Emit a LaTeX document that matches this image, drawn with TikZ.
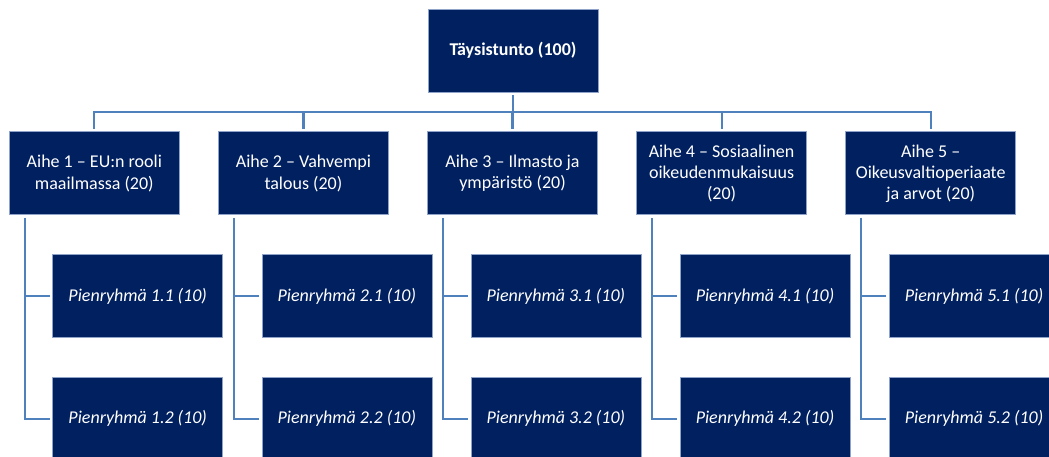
\documentclass[tikz,border=0pt]{standalone}
\usepackage{fontspec}
\setmainfont{Carlito}
\definecolor{boxfill}{HTML}{002060}
\definecolor{boxedge}{HTML}{8FA3C8}
\definecolor{conn}{HTML}{4F81BD}
\begin{document}
\begin{tikzpicture}[x=1pt,y=-1pt,
  box/.style={fill=boxfill, draw=boxedge, line width=0.6pt, minimum width=170pt, minimum height=83pt,
    inner sep=0pt, outer sep=3pt, text=white, align=center, font=\fontsize{18}{21.5}\selectfont},
  link/.style={draw=conn, line width=2.2pt}]
\clip (0,0) rectangle (1049,457);
\node[box] (top) at (513,50.6) {\bfseries Täysistunto (100)};
\node[box] (a1) at (94.3,173.3) {Aihe 1 – EU:n rooli\\maailmassa (20)};
\node[box] (a2) at (303.4,173.3) {Aihe 2 – Vahvempi\\talous (20)};
\node[box] (a3) at (512.5,173.3) {Aihe 3 – Ilmasto ja\\ympäristö (20)};
\node[box, font=\fontsize{18}{21}\selectfont] (a4) at (721.6,173.3) {Aihe 4 – Sosiaalinen\\oikeudenmukaisuus\\(20)};
\node[box, font=\fontsize{18}{21}\selectfont] (a5) at (930.7,173.3) {Aihe 5 –\\Oikeusvaltioperiaate\\ja arvot (20)};
\foreach \i in {1,...,5}{
  \pgfmathsetmacro{\px}{137.7+209.1*(\i-1)}
  \node[box] (p\i1) at (\px,296) {\itshape Pienryhmä \i.1 (10)};
  \node[box] (p\i2) at (\px,418.7) {\itshape Pienryhmä \i.2 (10)};
}
\coordinate (bus) at (513,112.3);
\draw[link] (top.south) -- (bus);
\foreach \i in {1,...,5}{
  \draw[link] (a\i.north) |- (bus);
  \draw[link] ([xshift=18.6pt]a\i.south west) |- (p\i1.west);
  \draw[link] ([xshift=18.6pt]a\i.south west) |- (p\i2.west);
}
\end{tikzpicture}
\end{document}
